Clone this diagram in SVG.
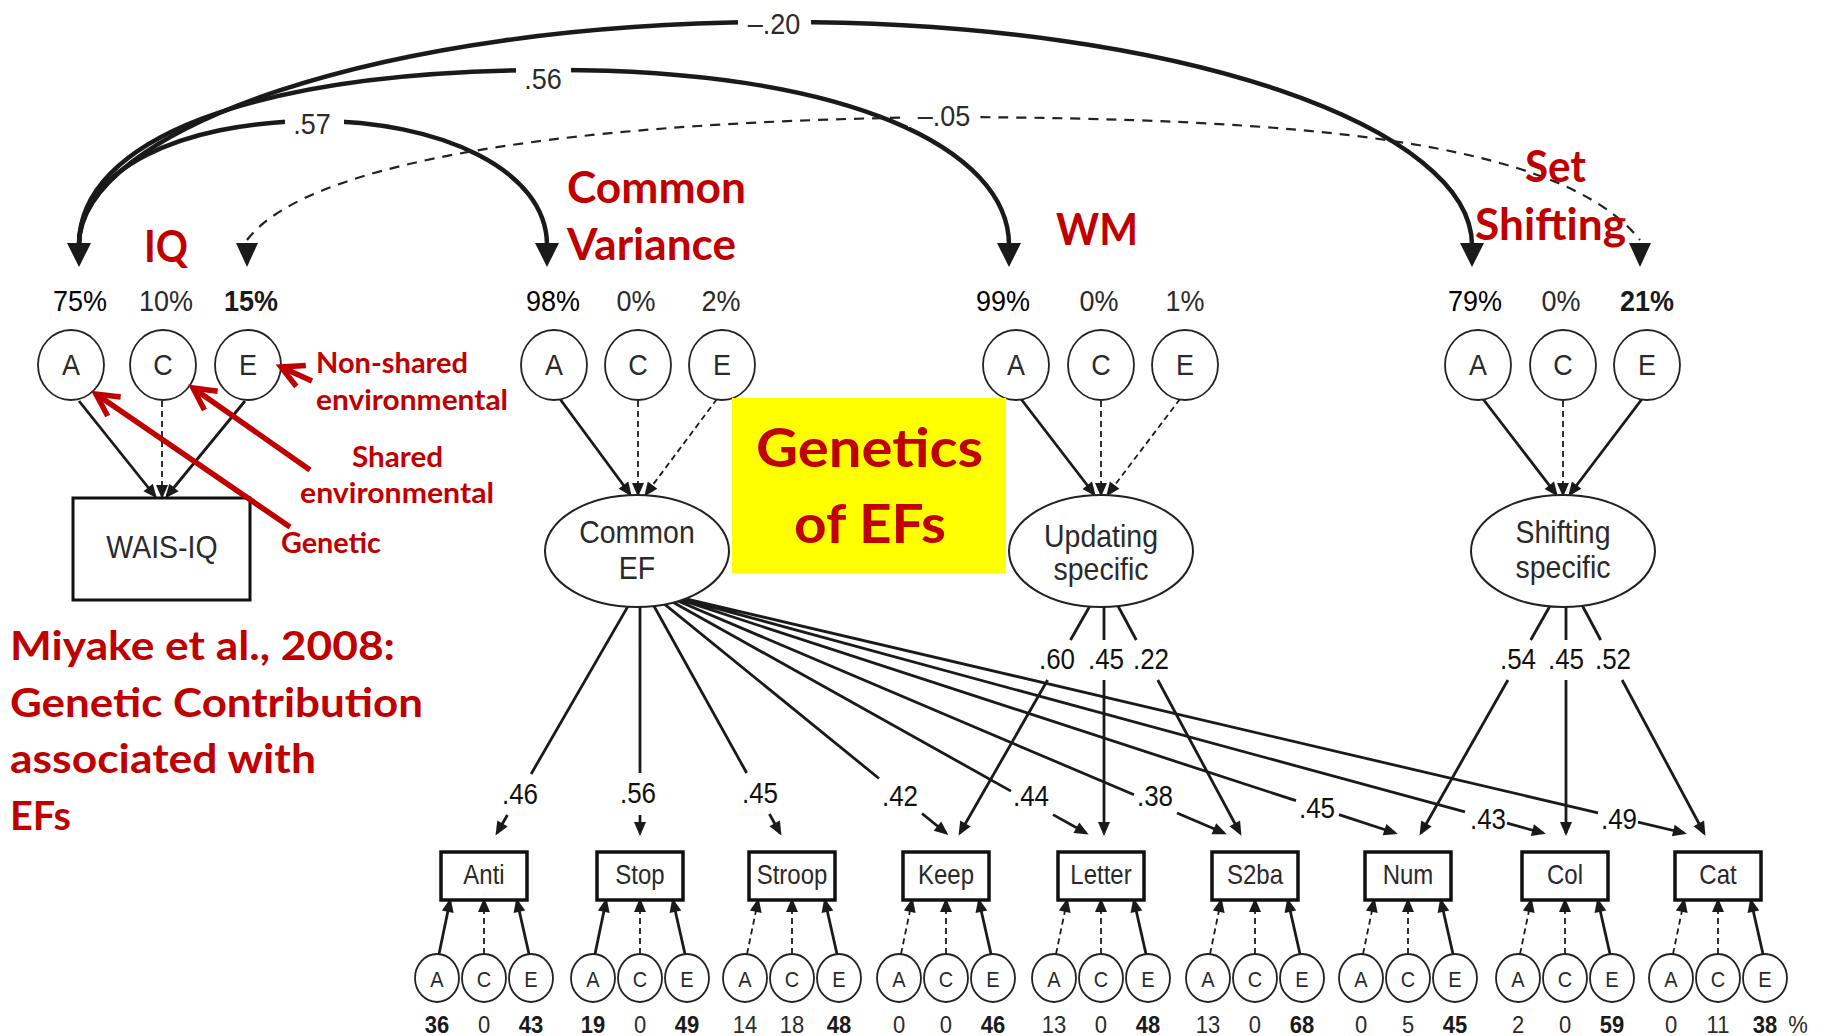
<svg xmlns="http://www.w3.org/2000/svg" width="1824" height="1036" viewBox="0 0 1824 1036">
<style>
.ln{stroke:#1a1a1a;stroke-width:2.8;fill:none}
.dl{stroke:#1a1a1a;stroke-width:1.8;fill:none;stroke-dasharray:6 4}
.cv{stroke:#1a1a1a;stroke-width:4.5;fill:none}
.cvd{stroke:#222;stroke-width:2.2;fill:none;stroke-dasharray:10 8}
.ci{fill:#fff;stroke:#222;stroke-width:1.8}
.el{fill:#fff;stroke:#222;stroke-width:2}
.box{fill:#fff;stroke:#111;stroke-width:3.5}
.t{font-family:"Liberation Sans",Arial,sans-serif;fill:#2a2a2a;text-anchor:middle;transform-box:fill-box;transform-origin:center;transform:scaleY(1.12)}
.b{font-weight:bold;fill:#1a1a1a}
.k{fill:#000}
.p{font-size:27px}
.l{font-size:26px;fill:#111}
.n{font-size:22px}
.red{font-family:Lato,"Open Sans",sans-serif;font-weight:bold;fill:#C00000}
.ra{stroke:#C00000;stroke-width:5.5;fill:none}
.ah{fill:#1a1a1a}
</style>
<defs>
<marker id="ah" markerUnits="userSpaceOnUse" markerWidth="20" markerHeight="20" refX="0" refY="0" orient="auto" style="overflow:visible"><path d="M3,0 L-11,-6 L-11,6 Z" fill="#1a1a1a"/></marker>
<marker id="rah" markerUnits="userSpaceOnUse" markerWidth="30" markerHeight="30" refX="0" refY="0" orient="auto" style="overflow:visible"><path d="M-22,-11.5 L0,0 L-22,11.5" fill="none" stroke="#C00000" stroke-width="5.5"/></marker>
</defs>
<rect width="1824" height="1036" fill="#fff"/>

<g id="connectors">
<!-- top correlation curves -->
<path class="cv" d="M79,245 C79,130 380,22 782,22 C1190,22 1472,130 1472,245"/>
<path class="cv" d="M79,245 C79,140 250,72 545,70 C850,68 1009,150 1009,245"/>
<path class="cv" d="M79,245 C79,170 180,122 312,121 C440,120 547,170 547,245"/>
<path class="cvd" d="M247,240 C300,170 520,122 944,117 C1300,118 1560,140 1640,240"/>
<polygon class="ah" points="67,243 91,243 79,267"/>
<polygon class="ah" points="236,243 258,243 247,267"/>
<polygon class="ah" points="535,243 559,243 547,267"/>
<polygon class="ah" points="997,243 1021,243 1009,267"/>
<polygon class="ah" points="1460,243 1484,243 1472,267"/>
<polygon class="ah" points="1629,243 1651,243 1640,267"/>
<rect x="738" y="6" width="73" height="34" fill="#fff"/>
<text class="t p" x="774" y="33">–.20</text>
<rect x="516" y="58" width="55" height="34" fill="#fff"/>
<text class="t p" x="543" y="88">.56</text>
<rect x="285" y="105" width="59" height="32" fill="#fff"/>
<text class="t p" x="312" y="133">.57</text>
<rect x="908" y="100" width="70" height="27" fill="#fff"/>
<text class="t p" x="944" y="125">–.05</text>

<!-- ACE to latent -->
<line class="ln" x1="79" y1="401" x2="155" y2="496" marker-end="url(#ah)"/>
<line class="dl" x1="162" y1="401" x2="162" y2="496" marker-end="url(#ah)"/>
<line class="ln" x1="245" y1="401" x2="167" y2="496" marker-end="url(#ah)"/>
<line class="ln" x1="560" y1="399" x2="630" y2="494" marker-end="url(#ah)"/>
<line class="dl" x1="638" y1="401" x2="638" y2="494" marker-end="url(#ah)"/>
<line class="dl" x1="717" y1="399" x2="646" y2="494" marker-end="url(#ah)"/>
<line class="ln" x1="1021" y1="399" x2="1094" y2="494" marker-end="url(#ah)"/>
<line class="dl" x1="1101" y1="401" x2="1101" y2="494" marker-end="url(#ah)"/>
<line class="dl" x1="1180" y1="399" x2="1108" y2="494" marker-end="url(#ah)"/>
<line class="ln" x1="1483" y1="399" x2="1556" y2="494" marker-end="url(#ah)"/>
<line class="dl" x1="1563" y1="401" x2="1563" y2="494" marker-end="url(#ah)"/>
<line class="ln" x1="1642" y1="399" x2="1570" y2="494" marker-end="url(#ah)"/>

<!-- Common EF loadings -->
<path class="ln" d="M636,592.4 L531.1,774 M640,590 L640,773 M646.3,592.3 L746.7,773 M654,595.6 L879,778.5 M662.3,596.2 L1011,791.1 M668.4,597 L1134,794.8 M672.9,597.4 L1296,800.7 M675.6,597.3 L1465,811.8 M677.5,596.9 L1598,812.8"/>
<line class="ln" x1="507.4" y1="815" x2="497" y2="833" marker-end="url(#ah)"/>
<line class="ln" x1="640" y1="815" x2="640" y2="833" marker-end="url(#ah)"/>
<line class="ln" x1="769.4" y1="814" x2="780" y2="833" marker-end="url(#ah)"/>
<line class="ln" x1="922" y1="813.5" x2="946" y2="833" marker-end="url(#ah)"/>
<line class="ln" x1="1053" y1="814.6" x2="1086" y2="833" marker-end="url(#ah)"/>
<line class="ln" x1="1177" y1="813" x2="1224" y2="833" marker-end="url(#ah)"/>
<line class="ln" x1="1339" y1="814.7" x2="1395" y2="833" marker-end="url(#ah)"/>
<line class="ln" x1="1507" y1="823.2" x2="1543" y2="833" marker-end="url(#ah)"/>
<line class="ln" x1="1638" y1="822.2" x2="1684" y2="833" marker-end="url(#ah)"/>
<text class="t l" x="520" y="803">.46</text>
<text class="t l" x="638" y="802">.56</text>
<text class="t l" x="760" y="802">.45</text>
<text class="t l" x="900" y="805">.42</text>
<text class="t l" x="1031" y="805">.44</text>
<text class="t l" x="1155" y="805">.38</text>
<text class="t l" x="1317" y="817">.45</text>
<text class="t l" x="1488" y="828">.43</text>
<text class="t l" x="1619" y="828">.49</text>

<!-- Updating loadings -->
<path class="ln" d="M1099,590 L1070.5,640 M1104,590 L1104,640 M1109.4,590 L1136.3,640"/>
<line class="ln" x1="1047.6" y1="680" x2="960" y2="833" marker-end="url(#ah)"/>
<line class="ln" x1="1104" y1="680" x2="1104" y2="833" marker-end="url(#ah)"/>
<line class="ln" x1="1157.8" y1="680" x2="1240" y2="833" marker-end="url(#ah)"/>
<text class="t l" x="1057" y="668">.60</text>
<text class="t l" x="1106" y="668">.45</text>
<text class="t l" x="1151" y="668">.22</text>

<!-- Shifting loadings -->
<path class="ln" d="M1559,590 L1530.7,640 M1566,590 L1566,640 M1574,590 L1600.7,640"/>
<line class="ln" x1="1507.9" y1="680" x2="1421" y2="833" marker-end="url(#ah)"/>
<line class="ln" x1="1566" y1="680" x2="1566" y2="833" marker-end="url(#ah)"/>
<line class="ln" x1="1622.1" y1="680" x2="1704" y2="833" marker-end="url(#ah)"/>
<text class="t l" x="1518" y="668">.54</text>
<text class="t l" x="1566" y="668">.45</text>
<text class="t l" x="1613" y="668">.52</text>

<!-- bottom ACE to indicators -->
<line class="ln" x1="439" y1="954" x2="450" y2="901" marker-end="url(#ah)"/>
<line class="dl" x1="484" y1="954" x2="484" y2="901" marker-end="url(#ah)"/>
<line class="ln" x1="529" y1="954" x2="517" y2="901" marker-end="url(#ah)"/>
<line class="ln" x1="595" y1="954" x2="606" y2="901" marker-end="url(#ah)"/>
<line class="dl" x1="640" y1="954" x2="640" y2="901" marker-end="url(#ah)"/>
<line class="ln" x1="685" y1="954" x2="673" y2="901" marker-end="url(#ah)"/>
<line class="dl" x1="747" y1="954" x2="758" y2="901" marker-end="url(#ah)"/>
<line class="dl" x1="792" y1="954" x2="792" y2="901" marker-end="url(#ah)"/>
<line class="ln" x1="837" y1="954" x2="825" y2="901" marker-end="url(#ah)"/>
<line class="dl" x1="901" y1="954" x2="912" y2="901" marker-end="url(#ah)"/>
<line class="dl" x1="946" y1="954" x2="946" y2="901" marker-end="url(#ah)"/>
<line class="ln" x1="991" y1="954" x2="979" y2="901" marker-end="url(#ah)"/>
<line class="dl" x1="1056" y1="954" x2="1067" y2="901" marker-end="url(#ah)"/>
<line class="dl" x1="1101" y1="954" x2="1101" y2="901" marker-end="url(#ah)"/>
<line class="ln" x1="1146" y1="954" x2="1134" y2="901" marker-end="url(#ah)"/>
<line class="dl" x1="1210" y1="954" x2="1221" y2="901" marker-end="url(#ah)"/>
<line class="dl" x1="1255" y1="954" x2="1255" y2="901" marker-end="url(#ah)"/>
<line class="ln" x1="1300" y1="954" x2="1288" y2="901" marker-end="url(#ah)"/>
<line class="dl" x1="1363" y1="954" x2="1374" y2="901" marker-end="url(#ah)"/>
<line class="dl" x1="1408" y1="954" x2="1408" y2="901" marker-end="url(#ah)"/>
<line class="ln" x1="1453" y1="954" x2="1441" y2="901" marker-end="url(#ah)"/>
<line class="dl" x1="1520" y1="954" x2="1531" y2="901" marker-end="url(#ah)"/>
<line class="dl" x1="1565" y1="954" x2="1565" y2="901" marker-end="url(#ah)"/>
<line class="ln" x1="1610" y1="954" x2="1598" y2="901" marker-end="url(#ah)"/>
<line class="dl" x1="1673" y1="954" x2="1684" y2="901" marker-end="url(#ah)"/>
<line class="dl" x1="1718" y1="954" x2="1718" y2="901" marker-end="url(#ah)"/>
<line class="ln" x1="1763" y1="954" x2="1751" y2="901" marker-end="url(#ah)"/>
</g>

<!-- top ACE nodes -->
<g id="iq-ace">
<text class="t p k" x="80" y="310">75%</text><text class="t p" x="166" y="310">10%</text><text class="t p b" x="251" y="310">15%</text>
<ellipse class="ci" cx="71" cy="365" rx="33" ry="35"/><text class="t p" x="71" y="374">A</text>
<ellipse class="ci" cx="163" cy="365" rx="33" ry="35"/><text class="t p" x="163" y="374">C</text>
<ellipse class="ci" cx="248" cy="365" rx="33" ry="35"/><text class="t p" x="248" y="374">E</text>
</g>
<g id="cef-ace">
<text class="t p k" x="553" y="310">98%</text><text class="t p" x="636" y="310">0%</text><text class="t p" x="721" y="310">2%</text>
<ellipse class="ci" cx="554" cy="365" rx="33" ry="35"/><text class="t p" x="554" y="374">A</text>
<ellipse class="ci" cx="638" cy="365" rx="33" ry="35"/><text class="t p" x="638" y="374">C</text>
<ellipse class="ci" cx="722" cy="365" rx="33" ry="35"/><text class="t p" x="722" y="374">E</text>
</g>
<g id="upd-ace">
<text class="t p k" x="1003" y="310">99%</text><text class="t p" x="1099" y="310">0%</text><text class="t p" x="1185" y="310">1%</text>
<ellipse class="ci" cx="1016" cy="365" rx="33" ry="35"/><text class="t p" x="1016" y="374">A</text>
<ellipse class="ci" cx="1101" cy="365" rx="33" ry="35"/><text class="t p" x="1101" y="374">C</text>
<ellipse class="ci" cx="1185" cy="365" rx="33" ry="35"/><text class="t p" x="1185" y="374">E</text>
</g>
<g id="shf-ace">
<text class="t p k" x="1475" y="310">79%</text><text class="t p" x="1561" y="310">0%</text><text class="t p b" x="1647" y="310">21%</text>
<ellipse class="ci" cx="1478" cy="365" rx="33" ry="35"/><text class="t p" x="1478" y="374">A</text>
<ellipse class="ci" cx="1563" cy="365" rx="33" ry="35"/><text class="t p" x="1563" y="374">C</text>
<ellipse class="ci" cx="1647" cy="365" rx="33" ry="35"/><text class="t p" x="1647" y="374">E</text>
</g>

<!-- latent / observed -->
<g id="wais-iq"><rect x="73" y="498" width="177" height="102" fill="#fff" stroke="#111" stroke-width="3"/><text class="t" font-size="28.5" x="162" y="557">WAIS-IQ</text></g>
<g id="common-ef"><ellipse class="el" cx="637" cy="551" rx="92" ry="56"/><text class="t" font-size="28.5" x="637" y="542">Common</text><text class="t" font-size="28.5" x="637" y="578">EF</text></g>
<g id="updating"><ellipse class="el" cx="1101" cy="551" rx="92" ry="56"/><text class="t" font-size="28.5" x="1101" y="546">Updating</text><text class="t" font-size="28.5" x="1101" y="579">specific</text></g>
<g id="shifting"><ellipse class="el" cx="1563" cy="551" rx="92" ry="56"/><text class="t" font-size="28.5" x="1563" y="542">Shifting</text><text class="t" font-size="28.5" x="1563" y="577">specific</text></g>

<!-- indicators -->
<g id="anti"><rect class="box" x="441" y="852" width="86" height="48"/><text class="t" font-size="24" x="484" y="883">Anti</text></g>
<g id="stop"><rect class="box" x="597" y="852" width="86" height="48"/><text class="t" font-size="24" x="640" y="883">Stop</text></g>
<g id="stroop"><rect class="box" x="749" y="852" width="86" height="48"/><text class="t" font-size="24" x="792" y="883">Stroop</text></g>
<g id="keep"><rect class="box" x="903" y="852" width="86" height="48"/><text class="t" font-size="24" x="946" y="883">Keep</text></g>
<g id="letter"><rect class="box" x="1058" y="852" width="86" height="48"/><text class="t" font-size="24" x="1101" y="883">Letter</text></g>
<g id="s2ba"><rect class="box" x="1212" y="852" width="86" height="48"/><text class="t" font-size="24" x="1255" y="883">S2ba</text></g>
<g id="num"><rect class="box" x="1365" y="852" width="86" height="48"/><text class="t" font-size="24" x="1408" y="883">Num</text></g>
<g id="col"><rect class="box" x="1522" y="852" width="86" height="48"/><text class="t" font-size="24" x="1565" y="883">Col</text></g>
<g id="cat"><rect class="box" x="1675" y="852" width="86" height="48"/><text class="t" font-size="24" x="1718" y="883">Cat</text></g>

<!-- bottom ACE -->
<g id="anti-ace" font-size="20">
<ellipse class="ci" cx="437" cy="978" rx="22" ry="24"/><text class="t" x="437" y="986">A</text>
<ellipse class="ci" cx="484" cy="978" rx="22" ry="24"/><text class="t" x="484" y="986">C</text>
<ellipse class="ci" cx="531" cy="978" rx="22" ry="24"/><text class="t" x="531" y="986">E</text>
<text class="t n b" x="437" y="1032">36</text><text class="t n" x="484" y="1032">0</text><text class="t n b" x="531" y="1032">43</text>
</g>
<g id="stop-ace" font-size="20">
<ellipse class="ci" cx="593" cy="978" rx="22" ry="24"/><text class="t" x="593" y="986">A</text>
<ellipse class="ci" cx="640" cy="978" rx="22" ry="24"/><text class="t" x="640" y="986">C</text>
<ellipse class="ci" cx="687" cy="978" rx="22" ry="24"/><text class="t" x="687" y="986">E</text>
<text class="t n b" x="593" y="1032">19</text><text class="t n" x="640" y="1032">0</text><text class="t n b" x="687" y="1032">49</text>
</g>
<g id="stroop-ace" font-size="20">
<ellipse class="ci" cx="745" cy="978" rx="22" ry="24"/><text class="t" x="745" y="986">A</text>
<ellipse class="ci" cx="792" cy="978" rx="22" ry="24"/><text class="t" x="792" y="986">C</text>
<ellipse class="ci" cx="839" cy="978" rx="22" ry="24"/><text class="t" x="839" y="986">E</text>
<text class="t n" x="745" y="1032">14</text><text class="t n" x="792" y="1032">18</text><text class="t n b" x="839" y="1032">48</text>
</g>
<g id="keep-ace" font-size="20">
<ellipse class="ci" cx="899" cy="978" rx="22" ry="24"/><text class="t" x="899" y="986">A</text>
<ellipse class="ci" cx="946" cy="978" rx="22" ry="24"/><text class="t" x="946" y="986">C</text>
<ellipse class="ci" cx="993" cy="978" rx="22" ry="24"/><text class="t" x="993" y="986">E</text>
<text class="t n" x="899" y="1032">0</text><text class="t n" x="946" y="1032">0</text><text class="t n b" x="993" y="1032">46</text>
</g>
<g id="letter-ace" font-size="20">
<ellipse class="ci" cx="1054" cy="978" rx="22" ry="24"/><text class="t" x="1054" y="986">A</text>
<ellipse class="ci" cx="1101" cy="978" rx="22" ry="24"/><text class="t" x="1101" y="986">C</text>
<ellipse class="ci" cx="1148" cy="978" rx="22" ry="24"/><text class="t" x="1148" y="986">E</text>
<text class="t n" x="1054" y="1032">13</text><text class="t n" x="1101" y="1032">0</text><text class="t n b" x="1148" y="1032">48</text>
</g>
<g id="s2ba-ace" font-size="20">
<ellipse class="ci" cx="1208" cy="978" rx="22" ry="24"/><text class="t" x="1208" y="986">A</text>
<ellipse class="ci" cx="1255" cy="978" rx="22" ry="24"/><text class="t" x="1255" y="986">C</text>
<ellipse class="ci" cx="1302" cy="978" rx="22" ry="24"/><text class="t" x="1302" y="986">E</text>
<text class="t n" x="1208" y="1032">13</text><text class="t n" x="1255" y="1032">0</text><text class="t n b" x="1302" y="1032">68</text>
</g>
<g id="num-ace" font-size="20">
<ellipse class="ci" cx="1361" cy="978" rx="22" ry="24"/><text class="t" x="1361" y="986">A</text>
<ellipse class="ci" cx="1408" cy="978" rx="22" ry="24"/><text class="t" x="1408" y="986">C</text>
<ellipse class="ci" cx="1455" cy="978" rx="22" ry="24"/><text class="t" x="1455" y="986">E</text>
<text class="t n" x="1361" y="1032">0</text><text class="t n" x="1408" y="1032">5</text><text class="t n b" x="1455" y="1032">45</text>
</g>
<g id="col-ace" font-size="20">
<ellipse class="ci" cx="1518" cy="978" rx="22" ry="24"/><text class="t" x="1518" y="986">A</text>
<ellipse class="ci" cx="1565" cy="978" rx="22" ry="24"/><text class="t" x="1565" y="986">C</text>
<ellipse class="ci" cx="1612" cy="978" rx="22" ry="24"/><text class="t" x="1612" y="986">E</text>
<text class="t n" x="1518" y="1032">2</text><text class="t n" x="1565" y="1032">0</text><text class="t n b" x="1612" y="1032">59</text>
</g>
<g id="cat-ace" font-size="20">
<ellipse class="ci" cx="1671" cy="978" rx="22" ry="24"/><text class="t" x="1671" y="986">A</text>
<ellipse class="ci" cx="1718" cy="978" rx="22" ry="24"/><text class="t" x="1718" y="986">C</text>
<ellipse class="ci" cx="1765" cy="978" rx="22" ry="24"/><text class="t" x="1765" y="986">E</text>
<text class="t n" x="1671" y="1032">0</text><text class="t n" x="1718" y="1032">11</text><text class="t n b" x="1765" y="1032">38</text>
<text class="t n" x="1798" y="1032">%</text>
</g>

<!-- annotations -->
<g id="title-box"><rect x="732" y="398" width="274" height="175" fill="#FFFF00"/>
<text class="red" font-size="54" x="756" y="467" textLength="227" lengthAdjust="spacingAndGlyphs">Genetics</text>
<text class="red" font-size="54" x="794" y="543" textLength="152" lengthAdjust="spacingAndGlyphs">of EFs</text></g>
<g id="red-labels">
<text class="red" font-size="43" x="144" y="262" textLength="44" lengthAdjust="spacingAndGlyphs">IQ</text>
<text class="red" font-size="43" x="567" y="203" textLength="179" lengthAdjust="spacingAndGlyphs">Common</text>
<text class="red" font-size="43" x="567" y="260" textLength="169" lengthAdjust="spacingAndGlyphs">Variance</text>
<text class="red" font-size="43" x="1056" y="245" textLength="82" lengthAdjust="spacingAndGlyphs">WM</text>
<text class="red" font-size="43" x="1525" y="182" textLength="61" lengthAdjust="spacingAndGlyphs">Set</text>
<text class="red" font-size="43" x="1475" y="240" textLength="151" lengthAdjust="spacingAndGlyphs">Shifting</text>
<text class="red" font-size="28" x="316" y="373" textLength="152" lengthAdjust="spacingAndGlyphs">Non-shared</text>
<text class="red" font-size="28" x="316" y="410" textLength="192" lengthAdjust="spacingAndGlyphs">environmental</text>
<text class="red" font-size="28" x="352" y="467" textLength="91" lengthAdjust="spacingAndGlyphs">Shared</text>
<text class="red" font-size="28" x="300" y="503" textLength="194" lengthAdjust="spacingAndGlyphs">environmental</text>
<text class="red" font-size="28" x="281" y="553" textLength="100" lengthAdjust="spacingAndGlyphs">Genetic</text>
<text class="red" font-size="41" x="10" y="660" textLength="385" lengthAdjust="spacingAndGlyphs">Miyake et al., 2008:</text>
<text class="red" font-size="41" x="10" y="717" textLength="413" lengthAdjust="spacingAndGlyphs">Genetic Contribution</text>
<text class="red" font-size="41" x="10" y="773" textLength="306" lengthAdjust="spacingAndGlyphs">associated with</text>
<text class="red" font-size="41" x="10" y="830" textLength="61" lengthAdjust="spacingAndGlyphs">EFs</text>
</g>
<g id="red-arrows">
<line class="ra" x1="312" y1="381" x2="281" y2="367" marker-end="url(#rah)"/>
<line class="ra" x1="310" y1="470" x2="193" y2="388" marker-end="url(#rah)"/>
<line class="ra" x1="290" y1="527" x2="96" y2="394" marker-end="url(#rah)"/>
</g>
</svg>
